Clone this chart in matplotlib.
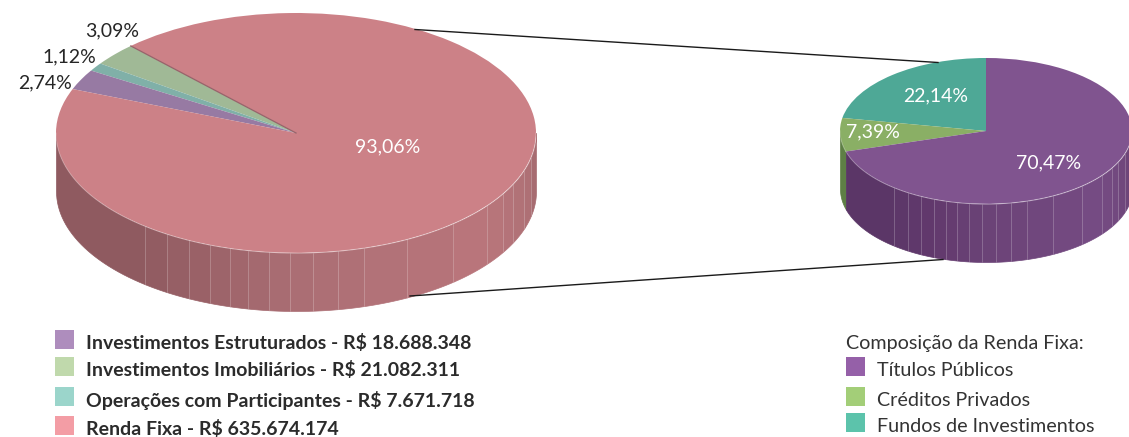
# coding:utf-8
import numpy as np
from matplotlib import pyplot as plt
from matplotlib.colors import to_rgb
from matplotlib.patches import Rectangle

plt.rcParams['font.family'] = ['Lato', 'DejaVu Sans']

W, H = 1129, 437

# main pie, counterclockwise from the sliver at upper left
main_names = ["Investimentos Imobiliários", "Operações com Participantes", "Investimentos Estruturados", "Renda Fixa"]
main_pct = [3.09, 1.12, 2.74, 93.06]
main_amount = ["21.082.311", "7.671.718", "18.688.348", "635.674.174"]
main_top = ["#A0B996", "#80B0A8", "#977AA3", "#CC8187"]
main_wall = [None, None, None, ["#8F5A60", "#8F5A60", "#9C6369", "#AB6E74", "#BA767C", "#AE7075", "#A3696E"]]
main_legend = ["#C0D9AC", "#9BD5CB", "#AE8DBD", "#F39DA5"]

# detail pie
fixa_names = ["Fundos de Investimentos", "Créditos Privados", "Títulos Públicos"]
fixa_pct = [22.14, 7.39, 70.47]
fixa_top = ["#4EA896", "#8AAF65", "#80548F"]
fixa_wall = [None, ["#5E7F45"] * 7, ["#5A3566", "#5C3668", "#62396D", "#6B4377", "#764C84", "#6E4579", "#6A4377"]]
fixa_legend = ["#5CC3AB", "#A3CE78", "#9560A8"]

# facets on the rim, degrees either side of the front
rim_edges = [-39, -32.5, -26.5, -21, -16, -11.5, -6.5, -1.5, 4, 10, 16.5, 27.5, 41, 52.7, 59.5, 64.7, 72, 78]
shade_angles = [180, 230, 250, 270, 320, 345, 360]


def add_pie(cx, cy, rx, ry, depth, pct, tops, walls, start):
    pad = 1.02
    x0 = cx - rx * pad
    y1 = cy + ry * pad + depth
    w = 2 * rx * pad
    h = 2 * ry * pad + depth
    ax = fig.add_axes([x0 / W, 1 - y1 / H, w / W, h / H])
    wedges, _ = ax.pie(pct, colors=tops, startangle=start, counterclock=True, radius=1,
                       wedgeprops={"linewidth": 0})
    ax.set_aspect("auto")
    ax.set_xlim(-pad, pad)
    ax.set_ylim(-pad - depth / ry, pad)
    ax.axis("off")

    d = depth / ry
    for wedge, shades in zip(wedges, walls):
        if shades is None:
            continue
        a0 = max(wedge.theta1 % 360, 180)
        a1 = wedge.theta2 % 360
        a1 = 360 if a1 <= a0 or a1 < 180 else a1
        a1 = min(a1, 360)
        edges = [a0] + [270 + e for e in rim_edges if a0 < 270 + e < a1] + [a1]
        rgb = np.array([to_rgb(c) for c in shades])
        for t0, t1 in zip(edges[:-1], edges[1:]):
            t = np.radians(np.linspace(t0, t1, 30))
            col = [np.interp((t0 + t1) / 2, shade_angles, rgb[:, i]) for i in range(3)]
            # edge in the same colour closes the seams between facets
            ax.fill_between(np.cos(t), np.sin(t), np.sin(t) - d, facecolor=col, edgecolor=col,
                            linewidth=0.5, zorder=0)
        for e in edges[1:-1]:
            t = np.radians(e)
            ax.plot([np.cos(t)] * 2, [np.sin(t), np.sin(t) - d], color="white", alpha=0.2, lw=0.7, zorder=1)
        t = np.radians(np.linspace(a0, a1, 200))
        ax.plot(np.cos(t), np.sin(t), color="white", alpha=0.3, lw=0.7, zorder=3)
    return ax


fig = plt.figure(figsize=(W / 100, H / 100), dpi=100)

ax1 = add_pie(296, 133, 240, 120, 58, main_pct, main_top, main_wall, 133.5)
t = np.radians(133.5)
ax1.plot([0, np.cos(t)], [0, np.sin(t)], color="#96636A", lw=0.9, zorder=4)
ax2 = add_pie(986, 131, 146, 73, 58, fixa_pct, fixa_top, fixa_wall, 90)

# overlay in pixel units for connectors, labels and legends
ov = fig.add_axes([0, 0, 1, 1])
ov.set_xlim(0, W)
ov.set_ylim(H, 0)
ov.axis("off")

ov.plot([415, 938], [29.5, 62.5], color="#1a1a1a", lw=1)
ov.plot([410, 943], [296, 259.5], color="#1a1a1a", lw=1)


def pct_text(v):
    return ("%.2f%%" % v).replace(".", ",")


lab = dict(ha="center", va="center", fontsize=14)
ov.text(112, 31, pct_text(main_pct[0]), color="#262626", **lab)
ov.text(69, 57, pct_text(main_pct[1]), color="#262626", **lab)
ov.text(45, 83, pct_text(main_pct[2]), color="#262626", **lab)
ov.text(388, 147, pct_text(main_pct[3]), color="white", **lab)
ov.text(936, 96, pct_text(fixa_pct[0]), color="white", **lab)
ov.text(873, 132, pct_text(fixa_pct[1]), color="white", **lab)
ov.text(1049, 163, pct_text(fixa_pct[2]), color="white", **lab)

# left legend, listed top to bottom
for i, ty, by in [(2, 343, 330), (0, 370, 357), (1, 400, 387), (3, 429, 416)]:
    ov.add_patch(Rectangle((55, by), 19, 19, color=main_legend[i], lw=0))
    ov.text(86, ty, "%s - R$ %s" % (main_names[i], main_amount[i]), fontsize=14, fontweight="bold",
            color="#2b2b2b", va="center", ha="left")

ov.text(846, 343, "Composição da Renda Fixa:", fontsize=14.2, color="#333333", va="center", ha="left")
for i, ty, by in [(2, 370, 357), (1, 400, 387), (0, 426, 413)]:
    ov.add_patch(Rectangle((846, by), 19, 19, color=fixa_legend[i], lw=0))
    ov.text(877, ty, fixa_names[i], fontsize=14.2, color="#333333", va="center", ha="left")

fig.savefig("out.png", dpi=100)
